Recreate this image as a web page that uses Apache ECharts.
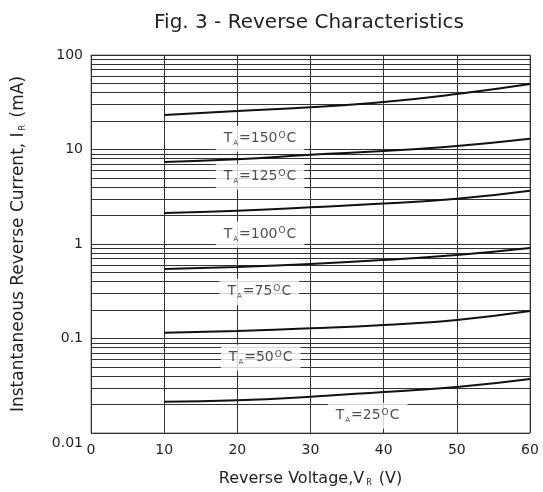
<!DOCTYPE html>
<html>
<head>
<meta charset="utf-8">
<script src="https://cdn.jsdelivr.net/npm/echarts@6/dist/echarts.min.js"></script>
<style>
  html, body { margin: 0; padding: 0; background: #fff; }
  #main { width: 543px; height: 492px; }
</style>
</head>
<body>
<div id="main"></div>
<script>
// 数据
var voltage = [10, 20, 30, 40, 50, 60];
var ir150 = [23.2, 25.5, 28.0, 31.8, 38.6, 49.3];
var ir125 = [7.38, 7.87, 8.81, 9.64, 10.9, 13.0];
var ir100 = [2.13, 2.25, 2.45, 2.68, 3.01, 3.66];
var ir75 = [0.543, 0.571, 0.614, 0.677, 0.765, 0.907];
var ir50 = [0.115, 0.120, 0.128, 0.139, 0.157, 0.195];
var ir25 = [0.0214, 0.0222, 0.0242, 0.0272, 0.0307, 0.0373];

// 曲线标注
var labelText = ['150', '125', '100', '75', '50', '25'];
var labelX = [23.1, 23.1, 23.1, 23.0, 23.2, 37.8];
var labelY = [13.0, 5.15, 1.26, 0.313, 0.0626, 0.0152];

var chart = echarts.init(document.getElementById('main'));

var textColor = '#231f20';
var font = 'DejaVu Sans, Liberation Sans, sans-serif';

// 对数次网格线 2..9
var minorLines = [];
for (var k = -2; k < 2; k++) {
    for (var m = 2; m <= 9; m++) {
        minorLines.push({ yAxis: +(m * Math.pow(10, k)).toPrecision(3) });
    }
}

function curve(name, data) {
    return {
        name: name,
        type: 'line',
        smooth: true,
        showSymbol: false,
        symbol: 'none',
        z: 5,
        lineStyle: { color: '#111', width: 2 },
        data: voltage.map(function (v, i) { return [v, data[i]]; })
    };
}

var subStyle = { fontSize: 8, verticalAlign: 'bottom', padding: [8, 2, 0, 2], color: textColor, fontFamily: font };

var option = {
    backgroundColor: '#fff',
    animation: false,
    title: {
        text: 'Fig. 3 - Reverse Characteristics',
        left: 304,
        textAlign: 'center',
        top: 8,
        textStyle: { color: textColor, fontSize: 20, fontWeight: 'normal', fontFamily: font }
    },
    grid: {
        left: 91,
        right: 13,
        top: 55,
        bottom: 59,
        show: true,
        borderColor: '#777',
        borderWidth: 1
    },
    xAxis: {
        type: 'value',
        min: 0,
        max: 60,
        interval: 10,
        name: 'Reverse Voltage,V{s|R} (V)',
        nameLocation: 'middle',
        nameGap: 38,
        nameTextStyle: {
            color: textColor, fontSize: 16, fontFamily: font,
            rich: { s: subStyle }
        },
        axisLine: { show: false },
        axisTick: { show: false },
        axisLabel: { color: textColor, fontSize: 14, fontFamily: font, margin: 10 },
        splitLine: { show: true, lineStyle: { color: '#333', width: 1 } }
    },
    yAxis: {
        type: 'log',
        logBase: 10,
        min: 0.01,
        max: 100,
        name: 'Instantaneous Reverse Current, I{s|R} (mA)',
        nameLocation: 'middle',
        nameGap: 64,
        nameTextStyle: {
            color: textColor, fontSize: 17, fontFamily: font,
            rich: { s: subStyle }
        },
        axisLine: { show: false },
        axisTick: { show: false },
        axisLabel: {
            color: textColor, fontSize: 14, fontFamily: font, margin: 8,
            formatter: function (v) {
                var s = String(+v.toPrecision(3));
                return v < 0.02 ? '{low|' + s + '}' : s;
            },
            rich: {
                low: { color: textColor, fontSize: 14, fontFamily: font, padding: [20, 0, 0, 0] }
            }
        },
        splitLine: { show: true, lineStyle: { color: '#333', width: 1 } }
    },
    series: [
        {
            name: 'grid',
            type: 'line',
            data: [],
            silent: true,
            markLine: {
                silent: true,
                symbol: 'none',
                label: { show: false },
                lineStyle: { color: '#333', width: 1, type: 'solid' },
                data: minorLines
            }
        },
        curve('150', ir150),
        curve('125', ir125),
        curve('100', ir100),
        curve('75', ir75),
        curve('50', ir50),
        curve('25', ir25),
        {
            name: 'labels',
            type: 'scatter',
            symbolSize: 0,
            z: 10,
            silent: true,
            data: labelX.map(function (x, i) { return [x, labelY[i], labelText[i]]; }),
            label: {
                show: true,
                position: 'inside',
                backgroundColor: '#fff',
                padding: [5, 8, 5, 8],
                color: textColor,
                fontSize: 14,
                fontFamily: font,
                formatter: function (p) {
                    return 'T{s|A}=' + p.data[2] + '{o|O}C';
                },
                rich: {
                    s: { fontSize: 7, verticalAlign: 'bottom', padding: [8, 1, 0, 1], color: textColor, fontFamily: font },
                    o: { fontSize: 9, verticalAlign: 'top', padding: [0, 1, 7, 1], color: textColor, fontFamily: font }
                }
            }
        }
    ]
};

chart.setOption(option);

window.addEventListener('resize', function () {
    chart.resize();
});
</script>
</body>
</html>
